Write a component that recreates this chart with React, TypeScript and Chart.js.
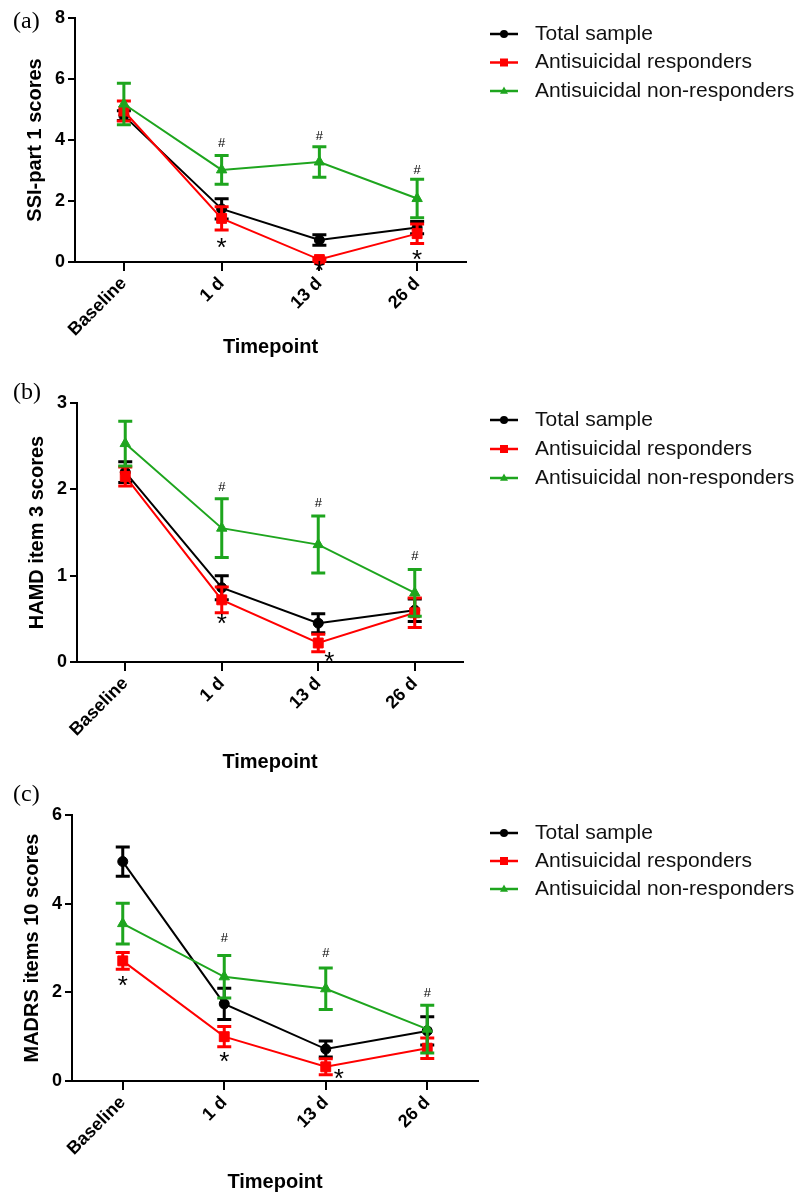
import { useEffect, useRef } from "react";
import { Chart, registerables } from "chart.js";

Chart.register(...registerables);

// ---------- shared data ----------
const timepoints = ["Baseline", "1 d", "13 d", "26 d"];
const seriesLabels = ["Total sample", "Antisuicidal responders", "Antisuicidal non-responders"];
const xTitle = "Timepoint";

// ---------- (a) SSI-part 1 ----------
const ssiTotal = [4.8, 1.74, 0.72, 1.13];
const ssiTotalErr = [0.16, 0.33, 0.17, 0.2];
const ssiResp = [4.95, 1.43, 0.08, 0.93];
const ssiRespErr = [0.33, 0.38, 0.05, 0.32];
const ssiNon = [5.18, 3.02, 3.28, 2.08];
const ssiNonErr = [0.68, 0.47, 0.5, 0.63];
const ssiTicks = [0, 2, 4, 6, 8];

// ---------- (b) HAMD item 3 ----------
const hamdTotal = [2.2, 0.86, 0.45, 0.6];
const hamdTotalErr = [0.12, 0.14, 0.11, 0.13];
const hamdResp = [2.15, 0.72, 0.22, 0.57];
const hamdRespErr = [0.11, 0.15, 0.1, 0.17];
const hamdNon = [2.53, 1.55, 1.36, 0.8];
const hamdNonErr = [0.26, 0.34, 0.33, 0.27];
const hamdTicks = [0, 1, 2, 3];

// ---------- (c) MADRS items 10 ----------
const madrsTotal = [4.95, 1.74, 0.72, 1.13];
const madrsTotalErr = [0.33, 0.35, 0.18, 0.32];
const madrsResp = [2.71, 1.0, 0.32, 0.74];
const madrsRespErr = [0.19, 0.23, 0.18, 0.23];
const madrsNon = [3.55, 2.35, 2.08, 1.17];
const madrsNonErr = [0.46, 0.48, 0.47, 0.54];
const madrsTicks = [0, 2, 4, 6];

// significance markers: index of timepoint
const ssiHashIdx = [1, 2, 3];
const ssiStarIdx = [1, 2, 3];
const hamdHashIdx = [1, 2, 3];
const hamdStarIdx = [1, 2];
const madrsHashIdx = [1, 2, 3];
const madrsStarIdx = [0, 1, 2];

// ---------- styles ----------
const FONT = "'Liberation Sans', Arial, Helvetica, sans-serif";
const SERIF = "'Liberation Serif', 'Times New Roman', serif";
const colors = ["#000000", "#ff0000", "#1ea51e"];
const pointStyles = ["circle", "rect", "triangle"];
const pointRadii = [5, 7, 6];
const drawOrder = [2, 1, 0];

type PanelCfg = {
  label: string;
  yTitle: string;
  top: number;
  height: number;
  yAxisWidth: number;
  rightPad: number;
  topPad: number;
  xAxisHeight: number;
  yTitlePad: number;
  xTitlePad: number;
  labelY: number;
  legendY: number[];
  ticks: number[];
  values: number[][];
  errors: number[][];
  hashIdx: number[];
  hashDy: number[];
  starIdx: number[];
  starDx: number[];
  starDy: number[];
};

const panels: PanelCfg[] = [
  {
    label: "(a)",
    yTitle: "SSI-part 1 scores",
    top: 0,
    height: 365,
    yAxisWidth: 75,
    rightPad: 346,
    topPad: 18,
    xAxisHeight: 103,
    yTitlePad: 23,
    xTitlePad: 6,
    labelY: 22,
    legendY: [34, 62.5, 91],
    ticks: ssiTicks,
    values: [ssiTotal, ssiResp, ssiNon],
    errors: [ssiTotalErr, ssiRespErr, ssiNonErr],
    hashIdx: ssiHashIdx,
    hashDy: [-13, -11, -10],
    starIdx: ssiStarIdx,
    starDx: [0, 0, 0],
    starDy: [13, 5, 12],
  },
  {
    label: "(b)",
    yTitle: "HAMD item 3 scores",
    top: 365,
    height: 410,
    yAxisWidth: 77,
    rightPad: 349,
    topPad: 38,
    xAxisHeight: 113,
    yTitlePad: 25,
    xTitlePad: 1,
    labelY: 28,
    legendY: [55, 84, 113],
    ticks: hamdTicks,
    values: [hamdTotal, hamdResp, hamdNon],
    errors: [hamdTotalErr, hamdRespErr, hamdNonErr],
    hashIdx: hamdHashIdx,
    hashDy: [-12, -14, -14],
    starIdx: hamdStarIdx,
    starDx: [0, 11],
    starDy: [6, 5],
  },
  {
    label: "(c)",
    yTitle: "MADRS items 10 scores",
    top: 775,
    height: 419,
    yAxisWidth: 72,
    rightPad: 334,
    topPad: 40,
    xAxisHeight: 113,
    yTitlePad: 20,
    xTitlePad: 0,
    labelY: 20,
    legendY: [58, 86, 114],
    ticks: madrsTicks,
    values: [madrsTotal, madrsResp, madrsNon],
    errors: [madrsTotalErr, madrsRespErr, madrsNonErr],
    hashIdx: madrsHashIdx,
    hashDy: [-18, -15, -13],
    starIdx: madrsStarIdx,
    starDx: [0, 0, 13],
    starDy: [12, 10, -1],
  },
];

// ---------- plugins ----------
const errorBarPlugin = {
  id: "errorBars",
  afterDatasetDraw(chart: any, args: any) {
    const ds: any = chart.data.datasets[args.index];
    const errs: number[] | undefined = ds.errors;
    if (!errs) return;
    const ys = chart.scales.y;
    const ctx = chart.ctx as CanvasRenderingContext2D;
    ctx.save();
    ctx.strokeStyle = ds.borderColor;
    ctx.lineWidth = 3;
    args.meta.data.forEach((pt: any, i: number) => {
      const v = ds.data[i];
      const e = errs[i];
      const yt = ys.getPixelForValue(v + e);
      const yb = ys.getPixelForValue(v - e);
      const x = pt.x;
      ctx.beginPath();
      ctx.moveTo(x, yt);
      ctx.lineTo(x, yb);
      ctx.moveTo(x - 7, yt);
      ctx.lineTo(x + 7, yt);
      ctx.moveTo(x - 7, yb);
      ctx.lineTo(x + 7, yb);
      ctx.stroke();
    });
    ctx.restore();
  },
};

function drawCentered(ctx: CanvasRenderingContext2D, text: string, x: number, cy: number) {
  ctx.textAlign = "center";
  ctx.textBaseline = "alphabetic";
  const m = ctx.measureText(text);
  const y = cy + (m.actualBoundingBoxAscent - m.actualBoundingBoxDescent) / 2;
  ctx.fillText(text, x, y);
}

function drawMarker(ctx: CanvasRenderingContext2D, style: string, x: number, y: number, r: number) {
  ctx.beginPath();
  if (style === "circle") {
    ctx.arc(x, y, r, 0, Math.PI * 2);
  } else if (style === "rect") {
    ctx.rect(x - r, y - r, 2 * r, 2 * r);
  } else {
    ctx.moveTo(x, y - r * 1.1);
    ctx.lineTo(x + r, y + r * 0.7);
    ctx.lineTo(x - r, y + r * 0.7);
    ctx.closePath();
  }
  ctx.fill();
}

const extrasPlugin = {
  id: "panelExtras",
  afterDraw(chart: any, _args: any, opts: any) {
    const ctx = chart.ctx as CanvasRenderingContext2D;
    const ys = chart.scales.y;
    const ds = chart.data.datasets;
    ctx.save();
    // panel label
    ctx.fillStyle = "#000";
    ctx.font = `24px ${SERIF}`;
    ctx.textAlign = "left";
    ctx.textBaseline = "middle";
    ctx.fillText(opts.label, 13, opts.labelY);

    // # above non-responders
    const gMeta = chart.getDatasetMeta(2);
    ctx.font = `13px ${FONT}`;
    opts.hashIdx.forEach((i: number, k: number) => {
      const v = ds[2].data[i] + ds[2].errors[i];
      drawCentered(ctx, "#", gMeta.data[i].x, ys.getPixelForValue(v) + opts.hashDy[k]);
    });

    // * below responders
    const rMeta = chart.getDatasetMeta(1);
    ctx.font = `26px ${FONT}`;
    opts.starIdx.forEach((i: number, k: number) => {
      const v = ds[1].data[i] - ds[1].errors[i];
      drawCentered(ctx, "*", rMeta.data[i].x + opts.starDx[k], ys.getPixelForValue(v) + opts.starDy[k]);
    });

    // legend
    ds.forEach((d: any, i: number) => {
      const y = opts.legendY[i];
      ctx.strokeStyle = colors[i];
      ctx.fillStyle = colors[i];
      ctx.lineWidth = 2.5;
      ctx.beginPath();
      ctx.moveTo(490, y);
      ctx.lineTo(518, y);
      ctx.stroke();
      drawMarker(ctx, pointStyles[i], 504, y, 4);
      ctx.fillStyle = "#111";
      ctx.font = `21px ${FONT}`;
      ctx.textAlign = "left";
      ctx.textBaseline = "middle";
      ctx.fillText(d.label, 535, y);
    });
    ctx.restore();
  },
};

function Panel({ cfg }: { cfg: PanelCfg }) {
  const ref = useRef<HTMLCanvasElement>(null);
  useEffect(() => {
    const t = cfg.ticks;
    const chart = new Chart(ref.current as HTMLCanvasElement, {
      type: "line",
      data: {
        labels: timepoints,
        datasets: cfg.values.map((vals, i) => ({
          label: seriesLabels[i],
          data: vals,
          errors: cfg.errors[i],
          borderColor: colors[i],
          backgroundColor: colors[i],
          pointBackgroundColor: colors[i],
          pointBorderColor: colors[i],
          borderWidth: 2,
          pointStyle: pointStyles[i],
          pointRadius: pointRadii[i],
          pointBorderWidth: 1,
          tension: 0,
          clip: false,
          order: drawOrder[i],
        })) as any,
      },
      options: {
        responsive: false,
        animation: false,
        events: [],
        layout: { padding: { left: 0, right: cfg.rightPad, top: cfg.topPad, bottom: 0 } },
        plugins: {
          legend: { display: false },
          tooltip: { enabled: false },
          panelExtras: {
            label: cfg.label,
            labelY: cfg.labelY,
            legendY: cfg.legendY,
            hashIdx: cfg.hashIdx,
            hashDy: cfg.hashDy,
            starIdx: cfg.starIdx,
            starDx: cfg.starDx,
            starDy: cfg.starDy,
          },
        } as any,
        scales: {
          x: {
            type: "category",
            offset: true,
            grid: {
              offset: false,
              drawOnChartArea: false,
              drawTicks: true,
              tickLength: 9,
              color: "#000",
              lineWidth: 2,
            },
            border: { display: true, color: "#000", width: 2 },
            ticks: {
              color: "#000",
              font: { family: FONT, size: 18, weight: "bold" },
              maxRotation: 45,
              minRotation: 45,
              autoSkip: false,
              padding: 2,
            },
            title: {
              display: true,
              text: xTitle,
              color: "#000",
              font: { family: FONT, size: 20, weight: "bold" },
              padding: { top: 0, bottom: cfg.xTitlePad },
            },
            afterFit: (s: any) => {
              s.height = cfg.xAxisHeight;
            },
          },
          y: {
            min: t[0],
            max: t[t.length - 1],
            ticks: {
              stepSize: t[1] - t[0],
              color: "#000",
              font: { family: FONT, size: 18, weight: "bold" },
              padding: 3,
            },
            grid: {
              drawOnChartArea: false,
              drawTicks: true,
              tickLength: 7,
              color: "#000",
              lineWidth: 2,
            },
            border: { display: true, color: "#000", width: 2 },
            title: {
              display: true,
              text: cfg.yTitle,
              color: "#000",
              font: { family: FONT, size: 20, weight: "bold" },
              padding: { top: cfg.yTitlePad, bottom: 0 },
            },
            afterFit: (s: any) => {
              s.width = cfg.yAxisWidth;
            },
          },
        } as any,
      },
      plugins: [errorBarPlugin, extrasPlugin] as any,
    });
    return () => chart.destroy();
  }, [cfg]);
  return (
    <canvas
      ref={ref}
      width={812}
      height={cfg.height}
      style={{ position: "absolute", left: 0, top: cfg.top, display: "block" }}
    />
  );
}

export default function App() {
  return (
    <div style={{ position: "absolute", left: 0, top: 0, width: 812, height: 1194, background: "#fff" }}>
      {panels.map((p) => (
        <Panel key={p.label} cfg={p} />
      ))}
    </div>
  );
}
